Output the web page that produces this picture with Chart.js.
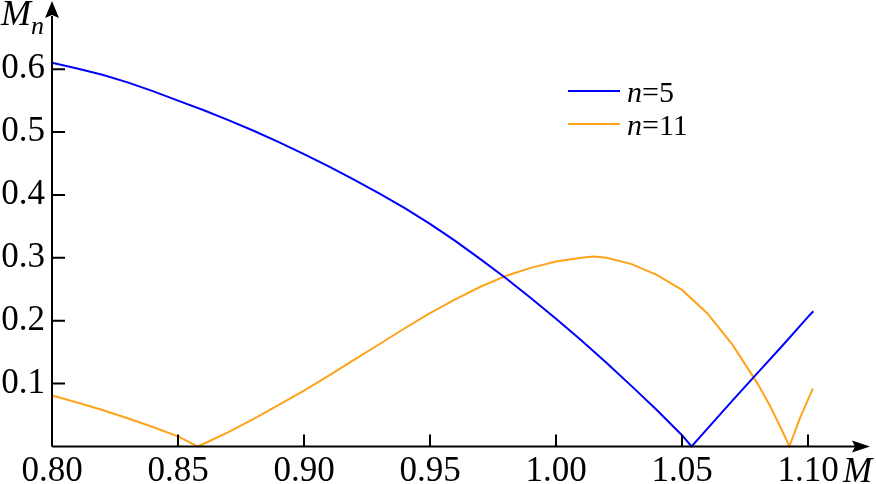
<!DOCTYPE html>
<html>
<head>
<meta charset="utf-8">
<script src="https://cdn.jsdelivr.net/npm/chart.js@4/dist/chart.umd.min.js"></script>
<style>
  html, body { margin: 0; padding: 0; background: #fff; }
  canvas { display: block; }
</style>
</head>
<body>
<canvas id="grafica" width="876" height="484"></canvas>
<script>
// values
var xTicks = [0.80, 0.85, 0.90, 0.95, 1.00, 1.05, 1.10];
var yTicks = [0.1, 0.2, 0.3, 0.4, 0.5, 0.6];

var m5 = [0.80, 0.81, 0.82, 0.83, 0.84, 0.85, 0.86, 0.87, 0.88, 0.89, 0.90,
          0.91, 0.92, 0.93, 0.94, 0.95, 0.96, 0.97, 0.98, 0.99, 1.00,
          1.01, 1.02, 1.03, 1.04, 1.05, 1.0538, 1.06, 1.07, 1.08, 1.09, 1.10, 1.1021];
var n5 = [0.610, 0.601, 0.591, 0.579, 0.565, 0.550, 0.535, 0.519, 0.502, 0.484, 0.465,
          0.445, 0.424, 0.402, 0.379, 0.354, 0.327, 0.298, 0.268, 0.236, 0.203,
          0.169, 0.133, 0.096, 0.058, 0.018, 0.000, 0.028, 0.073, 0.117, 0.161, 0.206, 0.215];

var m11 = [0.80, 0.81, 0.82, 0.83, 0.84, 0.85, 0.8577, 0.86, 0.87, 0.88, 0.89, 0.90,
           0.91, 0.92, 0.93, 0.94, 0.95, 0.96, 0.97, 0.98, 0.99, 1.00,
           1.01, 1.015, 1.02, 1.03, 1.04, 1.05, 1.06, 1.07, 1.08, 1.085, 1.09,
           1.0926, 1.0968, 1.1019];
var n11 = [0.081, 0.070, 0.058, 0.045, 0.031, 0.016, 0.000, 0.004, 0.023, 0.044, 0.066, 0.089,
           0.113, 0.138, 0.163, 0.188, 0.212, 0.234, 0.254, 0.271, 0.284, 0.294,
           0.300, 0.302, 0.300, 0.290, 0.273, 0.249, 0.212, 0.162, 0.100, 0.064, 0.023,
           0.000, 0.045, 0.092];

var serie = function (xs, ys) {
    return xs.map(function (x, i) { return { x: x, y: ys[i] }; });
};

var fuente = "'Liberation Serif', 'Times New Roman', serif";

// axes with arrows, inward ticks, axis names and the legend
var ejes = {
    id: 'ejes',
    afterDraw: function (chart) {
        var c = chart.ctx;
        var sx = chart.scales.x, sy = chart.scales.y;
        var x0 = sx.getPixelForValue(0.8);
        var y0 = sy.getPixelForValue(0);
        c.save();
        c.strokeStyle = '#000';
        c.fillStyle = '#000';
        c.lineWidth = 2;
        c.beginPath();
        c.moveTo(x0, y0); c.lineTo(856, y0);
        c.moveTo(x0, y0); c.lineTo(x0, 16);
        xTicks.forEach(function (v) {
            if (v === 0.8) return;
            var p = sx.getPixelForValue(v);
            c.moveTo(p, y0); c.lineTo(p, y0 - 12);
        });
        yTicks.forEach(function (v) {
            var p = sy.getPixelForValue(v);
            c.moveTo(x0, p); c.lineTo(x0 + 13, p);
        });
        c.stroke();
        // arrow heads
        c.beginPath();
        c.moveTo(870, y0); c.lineTo(852, y0 - 6); c.lineTo(855, y0); c.lineTo(852, y0 + 6);
        c.closePath(); c.fill();
        c.beginPath();
        c.moveTo(x0, 1); c.lineTo(x0 - 7, 18); c.lineTo(x0, 15); c.lineTo(x0 + 7, 18);
        c.closePath(); c.fill();

        c.textBaseline = 'alphabetic';
        c.textAlign = 'left';
        c.font = 'italic 35px ' + fuente;
        c.fillText('M', 843, 482);
        c.font = 'italic 36px ' + fuente;
        c.fillText('M', 1, 25);
        c.font = 'italic 26px ' + fuente;
        c.fillText('n', 31, 34);

        // legend
        var items = [['5', '#0000ff', 91], ['11', '#ffa31a', 124]];
        items.forEach(function (it) {
            c.strokeStyle = it[1];
            c.lineWidth = 2;
            c.beginPath(); c.moveTo(568, it[2]); c.lineTo(620, it[2]); c.stroke();
            c.font = 'italic 30px ' + fuente;
            c.fillText('n', 627, it[2] + 11);
            var w = c.measureText('n').width;
            c.font = '30px ' + fuente;
            c.fillText('=' + it[0], 627 + w, it[2] + 11);
        });
        c.restore();
    }
};

var ctx = document.getElementById('grafica').getContext('2d');
var myChart = new Chart(ctx, {
    type: 'scatter',
    data: {
        datasets: [{
            label: 'n=5',
            data: serie(m5, n5),
            showLine: true,
            borderColor: '#0000ff',
            borderWidth: 2,
            pointRadius: 0,
            tension: 0,
            clip: 6
        },
        {
            label: 'n=11',
            data: serie(m11, n11),
            showLine: true,
            borderColor: '#ffa31a',
            borderWidth: 2,
            pointRadius: 0,
            tension: 0,
            clip: 6
        }]
    },
    options: {
        responsive: false,
        animation: false,
        layout: { padding: { top: 2, right: 6, left: 0, bottom: 0 } },
        plugins: {
            legend: { display: false },
            tooltip: { enabled: false }
        },
        scales: {
            x: {
                type: 'linear',
                min: 0.8,
                max: 1.1246,
                afterFit: function (s) { s.height = 37.5; },
                afterBuildTicks: function (s) {
                    s.ticks = xTicks.map(function (v) { return { value: v }; });
                },
                grid: { display: false, drawTicks: false },
                border: { display: false },
                ticks: {
                    padding: 4,
                    color: '#000',
                    font: { family: fuente, size: 35 },
                    maxRotation: 0,
                    autoSkip: false,
                    callback: function (v) { return v.toFixed(2); }
                }
            },
            y: {
                min: 0,
                max: 0.6654,
                afterFit: function (s) { s.width = 52; },
                afterBuildTicks: function (s) {
                    s.ticks = yTicks.map(function (v) { return { value: v }; });
                },
                grid: { display: false, drawTicks: false },
                border: { display: false },
                ticks: {
                    padding: 7,
                    color: '#000',
                    font: { family: fuente, size: 35 },
                    autoSkip: false,
                    callback: function (v) { return v.toFixed(1); }
                }
            }
        }
    },
    plugins: [ejes]
});
</script>
</body>
</html>
